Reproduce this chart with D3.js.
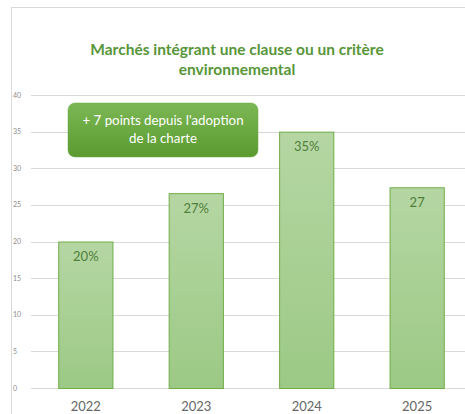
<!DOCTYPE html>
<html>
<head>
<meta charset="utf-8">
<title>Marchés intégrant une clause ou un critère environnemental</title>
<script src="https://d3js.org/d3.v7.min.js"></script>
<style>
  body { margin: 0; background: #fff; }
  svg { display: block; font-family: Lato, "Open Sans", sans-serif; }
</style>
</head>
<body>
<div id="chart"></div>
<script>
// data
const years = ["2022", "2023", "2024", "2025"];
const values = [20, 26.6, 35, 27.4];
const labels = ["20%", "27%", "35%", "27"];
const yTicks = [0, 5, 10, 15, 20, 25, 30, 35, 40];
const titleLines = ["Marchés intégrant une clause ou un critère", "environnemental"];
const noteLines = ["+ 7 points depuis l'adoption", "de la charte"];

const width = 465, height = 414;
const svg = d3.select("#chart").append("svg")
  .attr("width", width).attr("height", height);

const defs = svg.append("defs");
const barGrad = defs.append("linearGradient").attr("id", "barGrad")
  .attr("x1", 0).attr("y1", 0).attr("x2", 0).attr("y2", 1);
barGrad.append("stop").attr("offset", "0%").attr("stop-color", "#b5d6a3");
barGrad.append("stop").attr("offset", "100%").attr("stop-color", "#9cc985");
const noteGrad = defs.append("linearGradient").attr("id", "noteGrad")
  .attr("x1", 0).attr("y1", 0).attr("x2", 0).attr("y2", 1);
noteGrad.append("stop").attr("offset", "0%").attr("stop-color", "#7cb855");
noteGrad.append("stop").attr("offset", "100%").attr("stop-color", "#5a9a2f");

// chart frame
svg.append("rect")
  .attr("x", 11.5).attr("y", 7.5)
  .attr("width", 470).attr("height", 420)
  .attr("fill", "none").attr("stroke", "#d9d9d9");

// title
svg.append("text")
  .attr("x", 237).attr("y", 55)
  .attr("text-anchor", "middle")
  .attr("fill", "#58963a")
  .attr("font-size", 15.5).attr("font-weight", "bold")
  .selectAll("tspan").data(titleLines).join("tspan")
  .attr("x", 237).attr("dy", (d, i) => i ? 20 : 0)
  .text(d => d);

const x = d3.scaleBand().domain(years).range([3, 500]).padding(0.5);
const y = d3.scaleLinear().domain([0, 40]).range([388, 95]);

// gridlines
svg.append("g").selectAll("line").data(yTicks).join("line")
  .attr("x1", 31).attr("x2", width)
  .attr("y1", d => Math.round(y(d)) + 0.5).attr("y2", d => Math.round(y(d)) + 0.5)
  .attr("stroke", "#d9d9d9").attr("stroke-width", 1);

// y tick labels
svg.append("g").selectAll("text").data(yTicks).join("text")
  .attr("x", 13).attr("y", d => y(d) + 2.5)
  .attr("fill", "#8c8c8c").attr("font-size", 7)
  .text(d => d);

// bars
svg.append("g").selectAll("rect").data(values).join("rect")
  .attr("x", (d, i) => x(years[i]) + 0.5)
  .attr("y", d => y(d) + 0.5)
  .attr("width", x.bandwidth() - 1)
  .attr("height", d => y(0) - y(d))
  .attr("fill", "url(#barGrad)")
  .attr("stroke", "#70ad47").attr("stroke-width", 1);

// value labels
svg.append("g").selectAll("text").data(values).join("text")
  .attr("x", (d, i) => x(years[i]) + x.bandwidth() / 2)
  .attr("y", d => y(d) + 19.5)
  .attr("text-anchor", "middle")
  .attr("fill", "#4f7f3a").attr("font-size", 13)
  .text((d, i) => labels[i]);

// x axis labels
svg.append("g").selectAll("text").data(years).join("text")
  .attr("x", d => x(d) + x.bandwidth() / 2)
  .attr("y", 411)
  .attr("text-anchor", "middle")
  .attr("fill", "#666").attr("font-size", 13)
  .text(d => d);

// annotation box
const note = svg.append("g");
note.append("rect")
  .attr("x", 68).attr("y", 103).attr("width", 190).attr("height", 54)
  .attr("rx", 7)
  .attr("fill", "url(#noteGrad)")
  .attr("stroke", "#6aa843").attr("stroke-width", 0.5);
note.append("text")
  .attr("text-anchor", "middle")
  .attr("fill", "#fff").attr("font-size", 13.3)
  .selectAll("tspan").data(noteLines).join("tspan")
  .attr("x", 163).attr("y", (d, i) => 125 + i * 18)
  .text(d => d);
</script>
</body>
</html>
